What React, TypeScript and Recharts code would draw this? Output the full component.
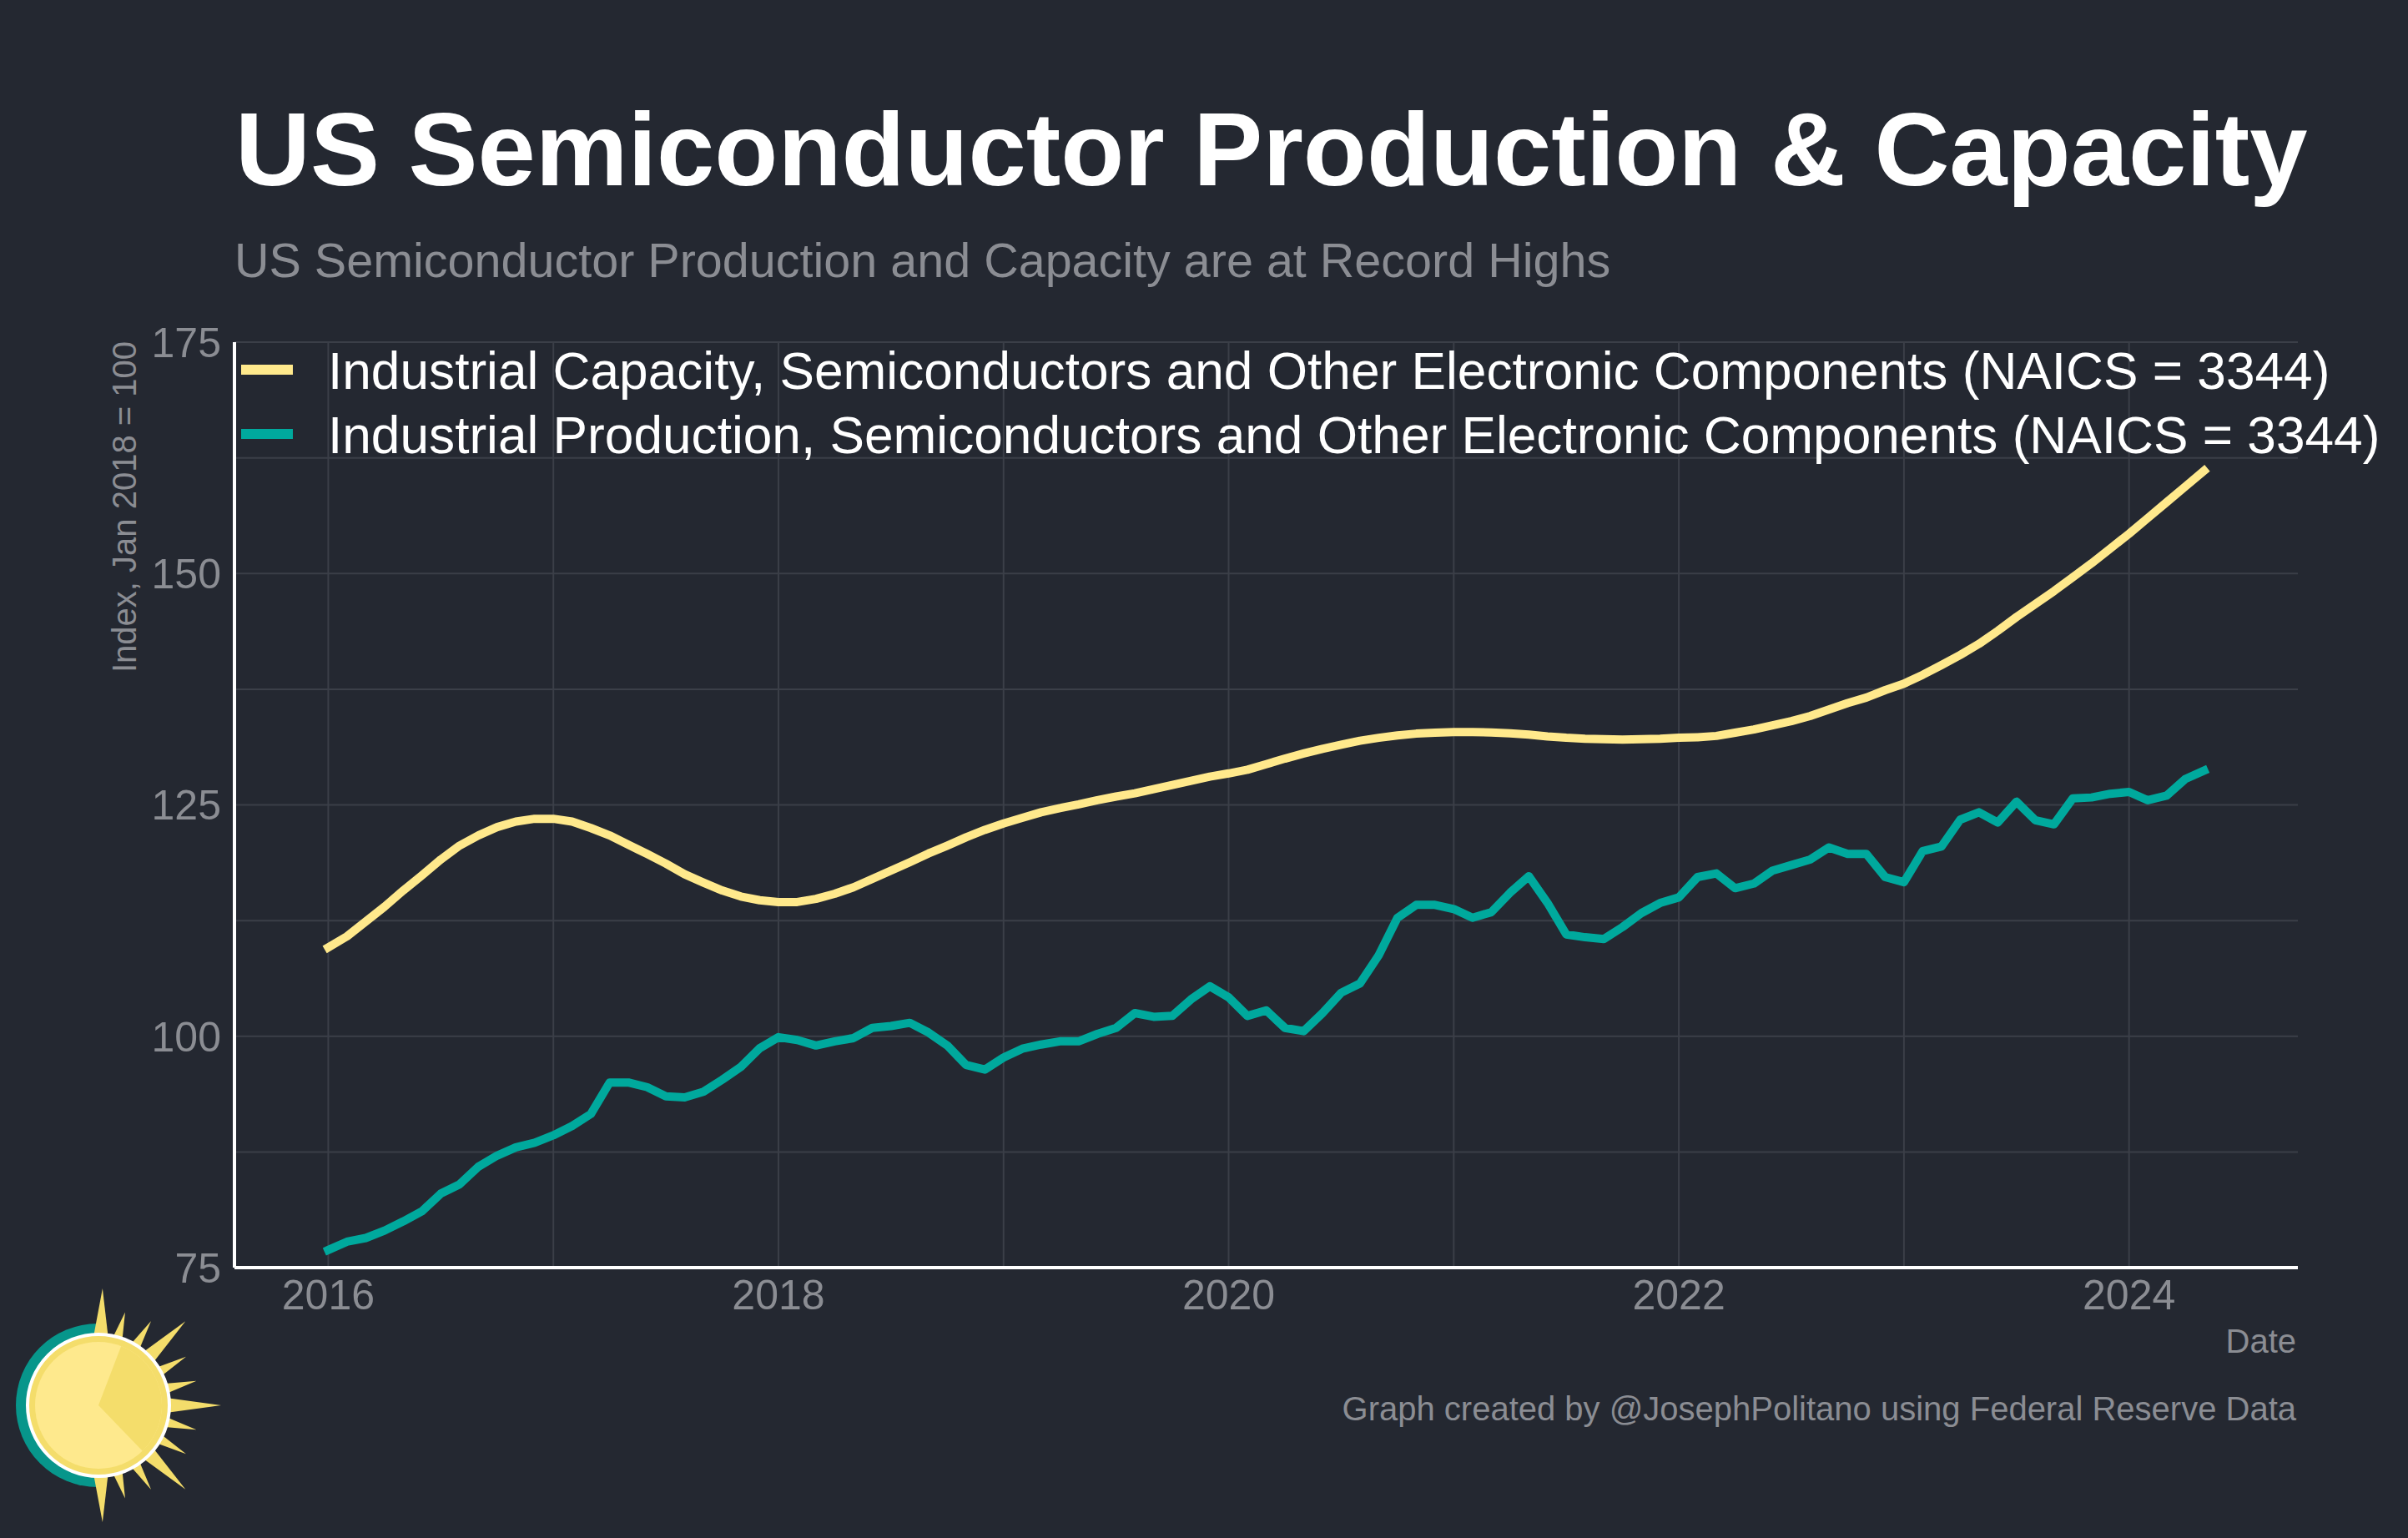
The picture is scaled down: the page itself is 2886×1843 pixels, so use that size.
import React from "react";
import { CartesianGrid, Legend, Line, LineChart, XAxis, YAxis } from "recharts";

// monthly index values, Jan 2016 .. May 2024 (Jan 2018 = 100)
const START_YEAR = 2016;

const capacity = [
  109.6, 110.8, 112.4, 114.0, 115.75, 117.4, 119.1, 120.6, 121.7, 122.6, 123.2, 123.5,
  123.5, 123.2, 122.5, 121.7, 120.7, 119.7, 118.65, 117.5, 116.6, 115.75, 115.1, 114.7,
  114.5, 114.5, 114.85, 115.4, 116.1, 117.0, 117.9, 118.8, 119.75, 120.6, 121.5, 122.3,
  123.0, 123.6, 124.2, 124.65, 125.05, 125.5, 125.9, 126.25, 126.7, 127.15, 127.6, 128.05,
  128.4, 128.8, 129.4, 130.0, 130.55, 131.06, 131.5, 131.93, 132.25, 132.5, 132.7, 132.8,
  132.86, 132.86, 132.83, 132.74, 132.6, 132.4, 132.25, 132.15, 132.1, 132.06, 132.1, 132.15,
  132.25, 132.3, 132.45, 132.8, 133.15, 133.6, 134.05, 134.6, 135.3, 136.0, 136.6, 137.4,
  138.1, 139.05, 140.1, 141.2, 142.4, 143.8, 145.3, 146.7, 148.1, 149.6, 151.1, 152.7,
  154.3, 156.0, 157.7, 159.4, 161.1,
];

const production = [
  76.9, 77.8, 78.2, 79.0, 80.0, 81.1, 83.0, 84.0, 85.9, 87.1, 88.0, 88.5,
  89.3, 90.3, 91.6, 95.0, 95.0, 94.5, 93.5, 93.4, 94.0, 95.3, 96.7, 98.7,
  99.9, 99.6, 99.0, 99.45, 99.8, 100.9, 101.1, 101.45, 100.4, 99.0, 96.9, 96.4,
  97.7, 98.65, 99.1, 99.45, 99.45, 100.25, 100.9, 102.5, 102.1, 102.2, 104.0, 105.4,
  104.2, 102.2, 102.8, 100.9, 100.55, 102.5, 104.7, 105.7, 108.75, 112.8, 114.2, 114.2,
  113.75, 112.8, 113.4, 115.5, 117.3, 114.4, 111.0, 110.7, 110.5, 111.8, 113.3, 114.4,
  115.0, 117.2, 117.6, 116.0, 116.5, 117.9, 118.5, 119.1, 120.4, 119.7, 119.7, 117.2,
  116.65, 120.0, 120.5, 123.4, 124.2, 123.1, 125.35, 123.35, 122.9, 125.7, 125.8, 126.2,
  126.4, 125.5, 126.0, 127.8, 128.7,
];

const xTicks = [2016, 2018, 2020, 2022, 2024];
const yTicks = [75, 100, 125, 150, 175];
const yearLines = [2016, 2017, 2018, 2019, 2020, 2021, 2022, 2023, 2024];
const valueLines = [75, 87.5, 100, 112.5, 125, 137.5, 150, 162.5, 175];

const data = capacity.map((c, i) => ({
  t: START_YEAR + i / 12,
  capacity: c,
  production: production[i],
}));

const FONT = '"Liberation Sans", Arial, Helvetica, sans-serif';
const BG = "#242831";
const GRID = "#3b3f48";
const MUTED = "#8b8d93";
const YELLOW = "#ffe98c";
const TEAL = "#00a99d";

function SeriesLegend({ payload }: { payload?: any[] }) {
  const items = payload ?? [];
  return (
    <svg width={2600} height={170} style={{ display: "block", overflow: "visible" }}>
      {items.map((item, i) => (
        <g key={item.value} transform={`translate(0, ${i * 77})`}>
          <rect x={9} y={37} width={62} height={12} fill={item.color} />
          <text x={113} y={66} fill="#ffffff" fontSize={62.2} fontFamily={FONT}>
            {item.value}
          </text>
        </g>
      ))}
    </svg>
  );
}

function SunLogo() {
  const cx = 118;
  const cy = 1684;
  const rays = [
    [-88, 140, 7], [-74, 116, 5], [-58, 119, 5], [-44, 145, 7], [-29, 120, 5], [-14, 121, 5],
    [0, 147, 7], [14, 121, 5], [29, 120, 5], [44, 145, 7], [58, 119, 5], [74, 116, 5], [88, 140, 7],
  ];
  const pt = (deg: number, r: number) => {
    const a = (deg * Math.PI) / 180;
    return `${cx + r * Math.cos(a)},${cy + r * Math.sin(a)}`;
  };
  const w0 = pt(-69, 76);
  const w1 = pt(46, 76);
  return (
    <g>
      <path d={`M ${cx - 1} ${cy - 98} A 98 98 0 0 0 ${cx - 1} ${cy + 98} Z`} fill="#07968b" />
      {rays.map(([a, len, hw]) => (
        <polygon key={a} points={`${pt(a - hw, 78)} ${pt(a, len)} ${pt(a + hw, 78)}`} fill="#f4dd6b" />
      ))}
      <circle cx={cx} cy={cy} r={85} fill="#f4dd6b" stroke="#ffffff" strokeWidth={4} />
      <circle cx={cx} cy={cy} r={76} fill="#fee98d" />
      <path d={`M ${cx} ${cy} L ${w0} A 76 76 0 0 1 ${w1} Z`} fill="#f4dd6b" />
    </g>
  );
}

export default function App() {
  return (
    <div
      style={{
        position: "absolute",
        left: 0,
        top: 0,
        width: 2886,
        height: 1843,
        background: BG,
        overflow: "hidden",
        fontFamily: FONT,
      }}
    >
      <LineChart
        width={2886}
        height={1843}
        data={data}
        margin={{ top: 410, right: 132, left: 181, bottom: 264 }}
      >
        <CartesianGrid
          stroke={GRID}
          strokeWidth={2}
          horizontalValues={valueLines}
          verticalValues={yearLines}
        />
        <XAxis
          type="number"
          dataKey="t"
          domain={[2015.5833, 2024.75]}
          ticks={xTicks}
          height={60}
          tickLine={false}
          tickMargin={8}
          axisLine={{ stroke: "#ffffff", strokeWidth: 4 }}
          tick={{ fill: MUTED, fontSize: 50, fontFamily: FONT }}
        />
        <YAxis
          type="number"
          domain={[75, 175]}
          ticks={yTicks}
          width={100}
          tickLine={false}
          tickMargin={10}
          axisLine={{ stroke: "#ffffff", strokeWidth: 4 }}
          tick={{ fill: MUTED, fontSize: 50, fontFamily: FONT }}
        />
        <Legend
          verticalAlign="middle"
          align="center"
          layout="horizontal"
          wrapperStyle={{ top: 400, left: 280, width: 2600, height: 170 }}
          content={(props: any) => <SeriesLegend payload={props.payload} />}
        />
        <Line
          type="linear"
          dataKey="capacity"
          name="Industrial Capacity, Semiconductors and Other Electronic Components (NAICS = 3344)"
          stroke={YELLOW}
          strokeWidth={10}
          strokeLinejoin="round"
          strokeLinecap="square"
          dot={false}
          activeDot={false}
          isAnimationActive={false}
        />
        <Line
          type="linear"
          dataKey="production"
          name="Industrial Production, Semiconductors and Other Electronic Components (NAICS = 3344)"
          stroke={TEAL}
          strokeWidth={10}
          strokeLinejoin="round"
          strokeLinecap="square"
          dot={false}
          activeDot={false}
          isAnimationActive={false}
        />
      </LineChart>
      <svg
        width={2886}
        height={1843}
        style={{ position: "absolute", left: 0, top: 0, pointerEvents: "none" }}
      >
        <text x={282} y={222} fill="#ffffff" fontSize={124.5} fontWeight="bold" fontFamily={FONT}>
          US Semiconductor Production &amp; Capacity
        </text>
        <text x={281} y={332} fill={MUTED} fontSize={57.5} fontFamily={FONT}>
          US Semiconductor Production and Capacity are at Record Highs
        </text>
        <text
          x={163}
          y={409}
          transform="rotate(-90 163 409)"
          textAnchor="end"
          fill={MUTED}
          fontSize={40}
          fontFamily={FONT}
        >
          Index, Jan 2018 = 100
        </text>
        <text x={2752} y={1621} textAnchor="end" fill={MUTED} fontSize={40} fontFamily={FONT}>
          Date
        </text>
        <text x={2752} y={1702} textAnchor="end" fill={MUTED} fontSize={40} fontFamily={FONT}>
          Graph created by @JosephPolitano using Federal Reserve Data
        </text>
        <SunLogo />
      </svg>
    </div>
  );
}
